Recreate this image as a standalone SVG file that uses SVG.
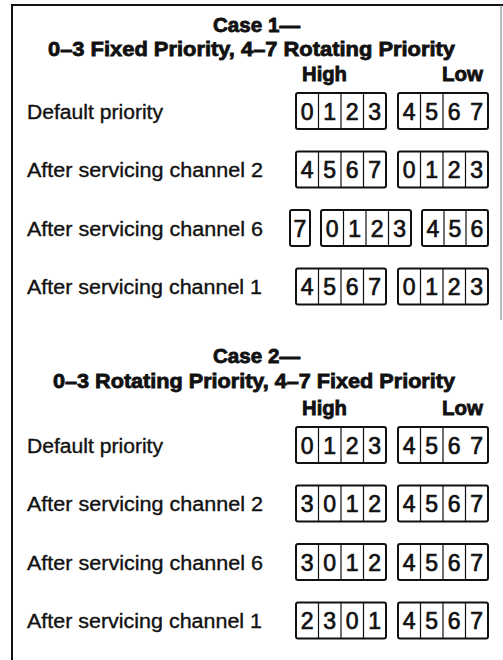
<svg xmlns="http://www.w3.org/2000/svg" width="503" height="660" viewBox="0 0 503 660">
<style>
.frame{stroke:#111;stroke-width:2;fill:none}
.box{fill:#fff;stroke:#111;stroke-width:2}
.div{stroke:#111;stroke-width:1.2}
.lbl{font-family:"Liberation Sans",Arial,sans-serif;font-size:20px;fill:#111;stroke:#111;stroke-width:0.35}
.ttl{font-family:"Liberation Sans",Arial,sans-serif;font-size:20px;font-weight:bold;fill:#111;stroke:#111;stroke-width:0.8}
.dg{font-family:"Liberation Sans",Arial,sans-serif;font-size:23px;fill:#111;text-anchor:middle;stroke:#111;stroke-width:0.7}
</style>
<rect width="503" height="660" fill="#fff"/>
<g id="frame">
<path class="frame" d="M12,661 V5 H503"/>
<path d="M501,5 V320" stroke="#777" stroke-width="1" fill="none"/>
</g>

<g id="case1-title">
<text class="ttl" x="213" y="32" textLength="87" lengthAdjust="spacingAndGlyphs">Case 1—</text>
<text class="ttl" x="48" y="55.5" textLength="407" lengthAdjust="spacingAndGlyphs">0–3 Fixed Priority, 4–7 Rotating Priority</text>
<text class="ttl" x="302" y="80.5" textLength="45" lengthAdjust="spacingAndGlyphs">High</text>
<text class="ttl" x="442" y="80.5" textLength="41" lengthAdjust="spacingAndGlyphs">Low</text>
</g>

<g id="c1-row1">
<text class="lbl" x="27" y="118.5" textLength="136" lengthAdjust="spacingAndGlyphs">Default priority</text>
<rect class="box" x="296" y="93" width="90" height="36" rx="2"/>
<path class="div" d="M318.5,93V129M341,93V129M363.5,93V129"/>
<text class="dg" y="119.5"><tspan x="307.25">0</tspan><tspan x="329.75">1</tspan><tspan x="352.25">2</tspan><tspan x="374.75">3</tspan></text>
<rect class="box" x="398" y="93" width="90" height="36" rx="2"/>
<path class="div" d="M420.5,93V129M443,93V129"/>
<text class="dg" y="119.5"><tspan x="409.25">4</tspan><tspan x="431.75">5</tspan><tspan x="454.25">6</tspan><tspan x="476.75">7</tspan></text>
</g>

<g id="c1-row2">
<text class="lbl" x="27" y="177" textLength="236" lengthAdjust="spacingAndGlyphs">After servicing channel 2</text>
<rect class="box" x="296" y="151.5" width="90" height="36" rx="2"/>
<path class="div" d="M318.5,151.5V187.5M341,151.5V187.5M363.5,151.5V187.5"/>
<text class="dg" y="178"><tspan x="307.25">4</tspan><tspan x="329.75">5</tspan><tspan x="352.25">6</tspan><tspan x="374.75">7</tspan></text>
<rect class="box" x="398" y="151.5" width="90" height="36" rx="2"/>
<path class="div" d="M420.5,151.5V187.5M443,151.5V187.5M465.5,151.5V187.5"/>
<text class="dg" y="178"><tspan x="409.25">0</tspan><tspan x="431.75">1</tspan><tspan x="454.25">2</tspan><tspan x="476.75">3</tspan></text>
</g>

<g id="c1-row3">
<text class="lbl" x="27" y="235.5" textLength="236" lengthAdjust="spacingAndGlyphs">After servicing channel 6</text>
<rect class="box" x="290" y="210" width="20" height="36" rx="2"/>
<text class="dg" y="236.5" x="300">7</text>
<rect class="box" x="321" y="210" width="90" height="36" rx="2"/>
<path class="div" d="M343.5,210V246M366,210V246M388.5,210V246"/>
<text class="dg" y="236.5"><tspan x="332.25">0</tspan><tspan x="354.75">1</tspan><tspan x="377.25">2</tspan><tspan x="399.75">3</tspan></text>
<rect class="box" x="422" y="210" width="66" height="36" rx="2"/>
<path class="div" d="M444,210V246M466,210V246"/>
<text class="dg" y="236.5"><tspan x="433">4</tspan><tspan x="455">5</tspan><tspan x="477">6</tspan></text>
</g>

<g id="c1-row4">
<text class="lbl" x="27" y="294" textLength="235" lengthAdjust="spacingAndGlyphs">After servicing channel 1</text>
<rect class="box" x="296" y="268.5" width="90" height="36" rx="2"/>
<path class="div" d="M318.5,268.5V304.5M341,268.5V304.5M363.5,268.5V304.5"/>
<text class="dg" y="295"><tspan x="307.25">4</tspan><tspan x="329.75">5</tspan><tspan x="352.25">6</tspan><tspan x="374.75">7</tspan></text>
<rect class="box" x="398" y="268.5" width="90" height="36" rx="2"/>
<path class="div" d="M420.5,268.5V304.5M443,268.5V304.5M465.5,268.5V304.5"/>
<text class="dg" y="295"><tspan x="409.25">0</tspan><tspan x="431.75">1</tspan><tspan x="454.25">2</tspan><tspan x="476.75">3</tspan></text>
</g>

<g id="case2-title">
<text class="ttl" x="213" y="363" textLength="87" lengthAdjust="spacingAndGlyphs">Case 2—</text>
<text class="ttl" x="53" y="388" textLength="402" lengthAdjust="spacingAndGlyphs">0–3 Rotating Priority, 4–7 Fixed Priority</text>
<text class="ttl" x="302" y="415" textLength="45" lengthAdjust="spacingAndGlyphs">High</text>
<text class="ttl" x="442" y="415" textLength="41" lengthAdjust="spacingAndGlyphs">Low</text>
</g>

<g id="c2-row1">
<text class="lbl" x="27" y="452.5" textLength="136" lengthAdjust="spacingAndGlyphs">Default priority</text>
<rect class="box" x="296" y="427" width="90" height="36" rx="2"/>
<path class="div" d="M318.5,427V463M341,427V463M363.5,427V463"/>
<text class="dg" y="453.5"><tspan x="307.25">0</tspan><tspan x="329.75">1</tspan><tspan x="352.25">2</tspan><tspan x="374.75">3</tspan></text>
<rect class="box" x="398" y="427" width="90" height="36" rx="2"/>
<path class="div" d="M420.5,427V463M443,427V463"/>
<text class="dg" y="453.5"><tspan x="409.25">4</tspan><tspan x="431.75">5</tspan><tspan x="454.25">6</tspan><tspan x="476.75">7</tspan></text>
</g>

<g id="c2-row2">
<text class="lbl" x="27" y="511" textLength="236" lengthAdjust="spacingAndGlyphs">After servicing channel 2</text>
<rect class="box" x="296" y="485.5" width="90" height="36" rx="2"/>
<path class="div" d="M318.5,485.5V521.5M341,485.5V521.5M363.5,485.5V521.5"/>
<text class="dg" y="512"><tspan x="307.25">3</tspan><tspan x="329.75">0</tspan><tspan x="352.25">1</tspan><tspan x="374.75">2</tspan></text>
<rect class="box" x="398" y="485.5" width="90" height="36" rx="2"/>
<path class="div" d="M420.5,485.5V521.5M443,485.5V521.5M465.5,485.5V521.5"/>
<text class="dg" y="512"><tspan x="409.25">4</tspan><tspan x="431.75">5</tspan><tspan x="454.25">6</tspan><tspan x="476.75">7</tspan></text>
</g>

<g id="c2-row3">
<text class="lbl" x="27" y="569.5" textLength="236" lengthAdjust="spacingAndGlyphs">After servicing channel 6</text>
<rect class="box" x="296" y="544" width="90" height="36" rx="2"/>
<path class="div" d="M318.5,544V580M341,544V580M363.5,544V580"/>
<text class="dg" y="570.5"><tspan x="307.25">3</tspan><tspan x="329.75">0</tspan><tspan x="352.25">1</tspan><tspan x="374.75">2</tspan></text>
<rect class="box" x="398" y="544" width="90" height="36" rx="2"/>
<path class="div" d="M420.5,544V580M443,544V580M465.5,544V580"/>
<text class="dg" y="570.5"><tspan x="409.25">4</tspan><tspan x="431.75">5</tspan><tspan x="454.25">6</tspan><tspan x="476.75">7</tspan></text>
</g>

<g id="c2-row4">
<text class="lbl" x="27" y="628" textLength="235" lengthAdjust="spacingAndGlyphs">After servicing channel 1</text>
<rect class="box" x="296" y="602.5" width="90" height="36" rx="2"/>
<path class="div" d="M318.5,602.5V638.5M341,602.5V638.5M363.5,602.5V638.5"/>
<text class="dg" y="629"><tspan x="307.25">2</tspan><tspan x="329.75">3</tspan><tspan x="352.25">0</tspan><tspan x="374.75">1</tspan></text>
<rect class="box" x="398" y="602.5" width="90" height="36" rx="2"/>
<path class="div" d="M420.5,602.5V638.5M443,602.5V638.5M465.5,602.5V638.5"/>
<text class="dg" y="629"><tspan x="409.25">4</tspan><tspan x="431.75">5</tspan><tspan x="454.25">6</tspan><tspan x="476.75">7</tspan></text>
</g>
<g id="connectors"/>
</svg>
